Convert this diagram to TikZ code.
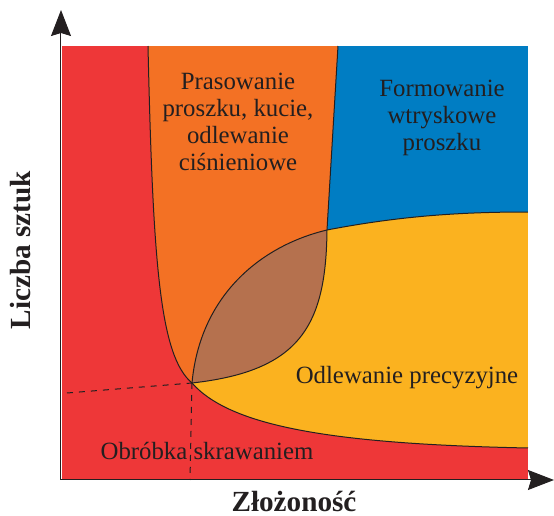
\documentclass[tikz,border=0pt]{standalone}
\usepackage{fontspec}
\setmainfont{Liberation Serif}
\usetikzlibrary{arrows.meta}

\definecolor{cutred}{HTML}{EE3738}
\definecolor{pressorange}{HTML}{F37124}
\definecolor{mouldblue}{HTML}{007DC3}
\definecolor{castyellow}{HTML}{FBB21F}
\definecolor{overlapbrown}{HTML}{B5714E}
\definecolor{inkgray}{HTML}{231F20}

\begin{document}
\begin{tikzpicture}[
		x=0.5pt, y=0.5pt,
		border/.style={draw=inkgray, line width=0.5pt},
		guide/.style={draw=inkgray, dashed, line width=0.5pt},
		axis/.style={draw=inkgray, line width=0.5pt, -{Stealth[length=13pt, width=10pt, inset=1.5pt]}},
		regiontext/.style={align=center, text=inkgray, font=\fontsize{12.4}{13.6}\selectfont},
		axistext/.style={text=inkgray, font=\fontsize{14.6}{16}\selectfont\bfseries}
		]
		
		\useasboundingbox (0,0) rectangle (554,516);
		
		% Key points of the chart
		\coordinate (origin) at (61,36);
		\coordinate (corner) at (192,133);
		\coordinate (meet) at (327,286);
		\coordinate (base) at (190,36);
		
		% Machining (background)
		\fill[cutred] (62,36) rectangle (528,470);
		
		% Pressing, forging, die casting
		\fill[pressorange] (148,470) .. controls (153,250) and (160,160) .. (corner)
		.. controls (300,145) and (326,190) .. (meet) -- (338,470) -- cycle;
		
		% Powder injection moulding
		\fill[mouldblue] (338,470) -- (528,470) -- (528,304)
		.. controls (460,304) and (400,300) .. (meet) -- cycle;
		
		% Investment casting
		\fill[castyellow] (corner) .. controls (200,220) and (260,270) .. (meet)
		.. controls (400,300) and (460,304) .. (528,304) -- (528,68)
		.. controls (330,72) and (230,90) .. (corner) -- cycle;
		
		% Overlap
		\fill[overlapbrown] (corner) .. controls (200,220) and (260,270) .. (meet)
		.. controls (326,190) and (300,145) .. (corner) -- cycle;
		
		% Boundaries
		\draw[border] (148,470) .. controls (153,250) and (160,160) .. (corner)
		.. controls (230,90) and (330,72) .. (528,68);
		\draw[border] (338,470) -- (meet) .. controls (326,190) and (300,145) .. (corner);
		\draw[border] (corner) .. controls (200,220) and (260,270) .. (meet)
		.. controls (400,300) and (460,304) .. (528,304);
		
		% Dashed guides
		\draw[guide] (67,123) -- (corner);
		\draw[guide] (corner) -- (base);
		
		% Axes
		\draw[axis] (origin) -- (61,506);
		\draw[axis] (origin) -- (554,36);
		
		% Region labels
		\node[regiontext] (pressing) at (238,394) {Prasowanie\\proszku, kucie,\\odlewanie\\ciśnieniowe};
		\node[regiontext] (moulding) at (442,398) {Formowanie\\wtryskowe\\proszku};
		\node[regiontext, anchor=base] (casting) at (407,133) {Odlewanie precyzyjne};
		\node[regiontext, anchor=base] (machining) at (207,56) {Obróbka skrawaniem};
		
		% Axis labels
		\node[axistext, anchor=base] (xlabel) at (294,4) {Złożoność};
		\node[axistext, anchor=base, rotate=90] (ylabel) at (31,266) {Liczba sztuk};
		
	\end{tikzpicture}
\end{document}
